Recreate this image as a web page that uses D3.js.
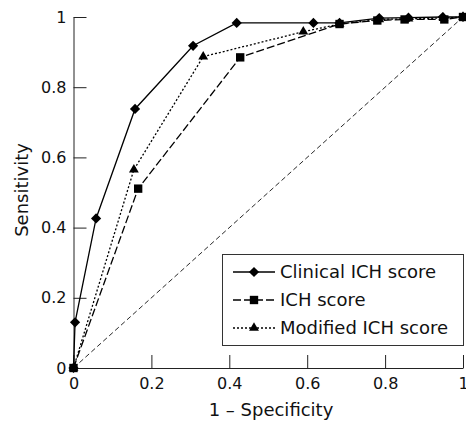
<!DOCTYPE html>
<html>
<head>
<meta charset="utf-8">
<script src="https://cdn.jsdelivr.net/npm/d3@7"></script>
<style>
  body { margin: 0; background: #fff; }
  text { font-family: "DejaVu Sans", sans-serif; fill: #111; }
</style>
</head>
<body>
<script>
// ROC curves
const clinicalX = [0, 0.004, 0.058, 0.158, 0.307, 0.419, 0.616, 0.683, 0.785, 0.86, 0.948, 1];
const clinicalY = [0, 0.13, 0.426, 0.738, 0.918, 0.983, 0.983, 0.983, 0.997, 0.998, 1, 1];
const ichX = [0, 0.166, 0.428, 0.683, 0.78, 0.85, 0.952, 1];
const ichY = [0, 0.511, 0.885, 0.98, 0.99, 0.993, 0.993, 1];
const modX = [0, 0.155, 0.333, 0.59, 0.683, 0.785, 0.86, 0.95, 1];
const modY = [0, 0.565, 0.887, 0.958, 0.98, 0.993, 0.995, 0.997, 1];
const seriesNames = ["Clinical ICH score", "ICH score", "Modified ICH score"];
const tickValues = [0, 0.2, 0.4, 0.6, 0.8, 1];

const width = 466, height = 425;
const svg = d3.select("body").append("svg").attr("width", width).attr("height", height);

const x = d3.scaleLinear().domain([0, 1]).range([73.5, 463]);
const y = d3.scaleLinear().domain([0, 1]).range([368, 17]);
const fmt = d => d === 0 || d === 1 ? String(d) : d.toFixed(1);

// axes, ticks pointing inward
svg.append("g").attr("transform", "translate(0," + y(0) + ")")
    .call(d3.axisBottom(x).tickValues(tickValues).tickFormat(fmt).tickSizeInner(-13).tickSizeOuter(0).tickPadding(10));
svg.append("g").attr("transform", "translate(" + x(0) + ",0)")
    .call(d3.axisLeft(y).tickValues(tickValues).tickFormat(fmt).tickSizeInner(-13).tickSizeOuter(0).tickPadding(7));
svg.selectAll(".tick text").attr("font-size", 16).attr("font-family", "DejaVu Sans").style("fill", "#111");
svg.selectAll(".domain, .tick line").attr("stroke", "#222");

svg.append("text").attr("x", 271).attr("y", 416).attr("text-anchor", "middle")
    .attr("font-size", 18).text("1 \u2013 Specificity");
svg.append("text").attr("transform", "translate(28,190) rotate(-90)").attr("text-anchor", "middle")
    .attr("font-size", 18).text("Sensitivity");

// chance line
svg.append("line").attr("x1", x(0)).attr("y1", y(0)).attr("x2", x(1)).attr("y2", y(1))
    .attr("stroke", "#111").attr("stroke-width", 0.9).attr("stroke-dasharray", "5,3");

const series = [
    { name: seriesNames[0], xs: clinicalX, ys: clinicalY, dash: null, sym: "diamond" },
    { name: seriesNames[1], xs: ichX, ys: ichY, dash: "8,3", sym: "square" },
    { name: seriesNames[2], xs: modX, ys: modY, dash: "2,2", sym: "triangle" }
];

const line = d3.line().x(d => x(d[0])).y(d => y(d[1]));

const drawMarker = (sel, sym) => {
    if (sym === "diamond") sel.attr("d", d3.symbol(d3.symbolSquare, 52)());
    if (sym === "square") sel.attr("d", d3.symbol(d3.symbolSquare, 70)());
    if (sym === "triangle") sel.attr("d", d3.symbol(d3.symbolTriangle, 42)());
    sel.attr("fill", "#000");
};

series.forEach(s => {
    const pts = s.xs.map((v, i) => [v, s.ys[i]]);
    svg.append("path").datum(pts).attr("d", line).attr("fill", "none")
        .attr("stroke", "#000").attr("stroke-width", 1.3)
        .attr("stroke-dasharray", s.dash);
});

series.forEach(s => {
    const pts = s.xs.map((v, i) => [v, s.ys[i]]);
    svg.append("g").selectAll("path").data(pts).join("path")
        .attr("transform", d => "translate(" + x(d[0]) + "," + y(d[1]) + ")" + (s.sym === "diamond" ? " rotate(45)" : ""))
        .call(drawMarker, s.sym);
});

// legend
const lg = svg.append("g");
lg.append("rect").attr("x", 222.5).attr("y", 254.5).attr("width", 241).attr("height", 91)
    .attr("fill", "#fff").attr("stroke", "#333").attr("stroke-width", 1);
series.forEach((s, i) => {
    const cy = 272 + i * 28;
    lg.append("line").attr("x1", 233).attr("x2", 275).attr("y1", cy).attr("y2", cy)
        .attr("stroke", "#000").attr("stroke-width", 1.3).attr("stroke-dasharray", s.dash);
    lg.append("path").attr("transform", "translate(254," + cy + ")" + (s.sym === "diamond" ? " rotate(45)" : ""))
        .call(drawMarker, s.sym);
    lg.append("text").attr("x", 280).attr("y", cy).attr("dy", "0.36em")
        .attr("font-size", 18).text(s.name);
});
</script>
</body>
</html>
